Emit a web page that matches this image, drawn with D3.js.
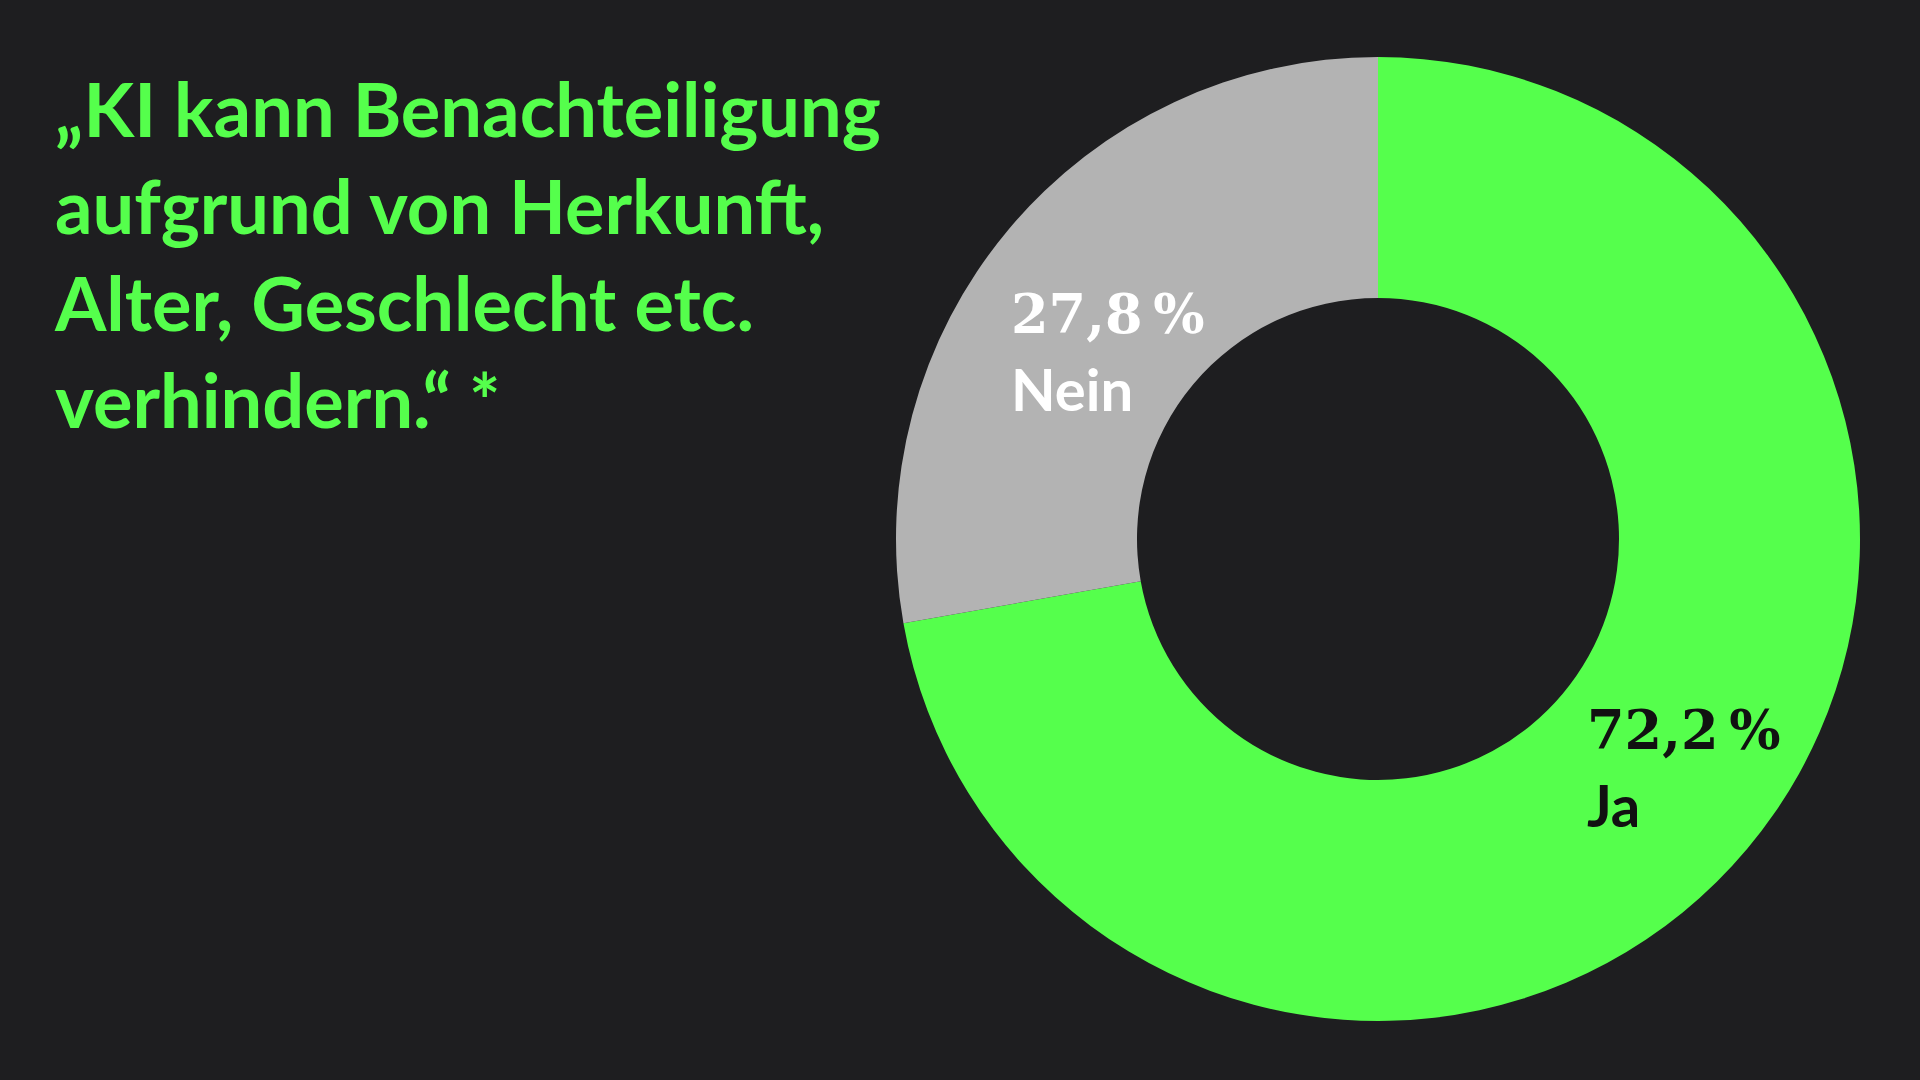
<!DOCTYPE html>
<html><head><meta charset="utf-8">
<script src="https://cdn.jsdelivr.net/npm/d3@7"></script>
<style>body{margin:0;background:#1e1e20;}svg{display:block;}</style>
</head><body>
<svg id="chart" width="1920" height="1080"></svg>
<script>
// data
const categories = ['Ja', 'Nein'];
const values = [72.2, 27.8];
const colors = ['#55ff4c', '#b3b3b3'];
const labelColors = ['#111', '#fff'];
const titleLines = ['„KI kann Benachteiligung', 'aufgrund von Herkunft,', 'Alter, Geschlecht etc.', 'verhindern.“ *'];

const svg = d3.select('#chart');
svg.append('rect').attr('width', 1920).attr('height', 1080).attr('fill', '#1e1e20');

// title
svg.append('g').selectAll('text').data(titleLines).join('text')
    .attr('x', 55)
    .attr('y', (d, i) => 137 + i * 97)
    .attr('fill', '#55ff4c')
    .attr('font-family', 'Lato, "Noto Sans", sans-serif')
    .attr('font-weight', 700)
    .attr('font-size', 74)
    .text(d => d);

// donut
const cx = 1378, cy = 539;
const pie = d3.pie().sort(null).value(d => d);
const arc = d3.arc().innerRadius(241).outerRadius(482);
const g = svg.append('g').attr('transform', `translate(${cx},${cy})`);
g.selectAll('path').data(pie(values)).join('path')
    .attr('d', arc)
    .attr('fill', (d, i) => colors[i]);

// labels
const labelPos = [[1587, 749], [1011, 333]];
const fmt = v => d3.format('.1f')(v).replace('.', ',') + '\u2009%';
categories.forEach((c, i) => {
    const t = svg.append('text')
        .attr('x', labelPos[i][0]).attr('y', labelPos[i][1])
        .attr('fill', labelColors[i])
        .attr('font-weight', 700);
    t.append('tspan').attr('font-family', '"DejaVu Serif", serif').attr('font-size', 54).text(fmt(values[i]));
    t.append('tspan').attr('x', labelPos[i][0]).attr('dy', 78)
        .attr('font-family', 'Lato, "Noto Sans", sans-serif').attr('font-size', 58).text(c);
});
</script>
</body></html>
